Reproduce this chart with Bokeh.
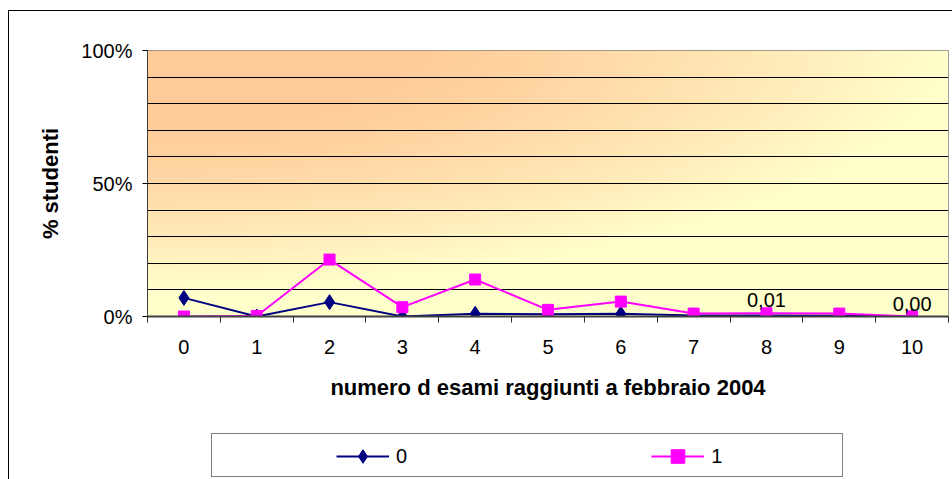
import numpy as np
from bokeh.plotting import figure
from bokeh.layouts import column
from bokeh.models import (ColumnDataSource, FixedTicker, NumeralTickFormatter, Legend,
                          LegendItem, LabelSet, Range1d)
from bokeh.core.properties import value
from bokeh.embed import file_html
from bokeh.resources import INLINE

# ---------------- data ----------------
categories = [0, 1, 2, 3, 4, 5, 6, 7, 8, 9, 10]
series_names = ["0", "1"]
serie_0 = [0.070, 0.000, 0.054, 0.000, 0.010, 0.008, 0.010, 0.004, 0.004, 0.003, 0.000]
serie_1 = [0.000, 0.002, 0.214, 0.035, 0.139, 0.025, 0.056, 0.011, 0.012, 0.011, 0.000]
label_categories = [8, 10]
label_texts = ["0,01", "0,00"]
y_ticks = [0.0, 0.5, 1.0]
x_title = "numero d esami raggiunti a febbraio 2004"
y_title = "% studenti"

FONT = "Liberation Sans"
NAVY = "#000080"
MAGENTA = "#FF00FF"

x_start, x_end = categories[0] - 0.5, categories[-1] + 0.5
y_start, y_end = y_ticks[0], y_ticks[-1]

p = figure(width=952, height=420, output_backend="svg", toolbar_location=None,
           x_range=Range1d(x_start, x_end), y_range=Range1d(y_start, y_end),
           min_border_left=147, min_border_right=4, min_border_top=50, min_border_bottom=104)
p.border_fill_color = None
p.outline_line_color = "#808080"
p.outline_line_width = 1

# ---------------- gradient background of the plot area ----------------
nx, ny = 400, 134
u = np.linspace(0.0, 1.0, nx)[None, :]
v = np.linspace(1.0, 0.0, ny)[:, None]  # row 0 = bottom
d = np.sqrt(u ** 2 + (v / 0.9) ** 2)
t = np.clip((d - 0.3) / 0.7, 0.0, 1.0) ** 1.3
c0 = np.array([255, 204, 153], dtype=float)
c1 = np.array([255, 255, 204], dtype=float)
rgb = c0[None, None, :] + (c1 - c0)[None, None, :] * t[:, :, None]
img = np.empty((ny, nx), dtype=np.uint32)
view = img.view(dtype=np.uint8).reshape((ny, nx, 4))
view[:, :, 0] = rgb[:, :, 0].astype(np.uint8)
view[:, :, 1] = rgb[:, :, 1].astype(np.uint8)
view[:, :, 2] = rgb[:, :, 2].astype(np.uint8)
view[:, :, 3] = 255
p.image_rgba(image=[img], x=x_start, y=y_start, dw=x_end - x_start, dh=y_end - y_start,
             level="image")

# ---------------- grid ----------------
p.xgrid.visible = False
p.ygrid.ticker = FixedTicker(ticks=[round(0.1 * k, 1) for k in range(1, 10)])
p.ygrid.grid_line_color = "#000000"
p.ygrid.grid_line_width = 1

# ---------------- series ----------------
src = ColumnDataSource(dict(x=categories, s0=serie_0, s1=serie_1))
p.line("x", "s0", source=src, line_color=NAVY, line_width=2)
p.scatter("x", "s0", source=src, marker="diamond", size=15, fill_color=NAVY, line_color=NAVY)
p.line("x", "s1", source=src, line_color=MAGENTA, line_width=2)
p.scatter("x", "s1", source=src, marker="square", size=11, fill_color=MAGENTA,
          line_color=MAGENTA)

lab_src = ColumnDataSource(dict(
    x=label_categories,
    y=[serie_1[categories.index(c)] for c in label_categories],
    text=label_texts))
p.add_layout(LabelSet(x="x", y="y", text="text", source=lab_src, text_align="center",
                      text_baseline="alphabetic", y_offset=6, text_font_size="20px",
                      text_font=value(FONT), text_color="#000000"))

# ---------------- axes ----------------
centers = categories
bounds = [c - 0.5 for c in categories] + [categories[-1] + 0.5]
p.xaxis.ticker = FixedTicker(ticks=centers, minor_ticks=bounds)
p.xaxis.major_tick_out = 0
p.xaxis.major_tick_in = 0
p.xaxis.minor_tick_out = 6
p.xaxis.minor_tick_in = 0
p.xaxis.minor_tick_line_color = "#333333"
p.xaxis.axis_line_color = "#404040"
p.xaxis.axis_line_width = 2
p.xaxis.major_label_text_font = FONT
p.xaxis.major_label_text_font_size = "20px"
p.xaxis.major_label_text_color = "#000000"
p.xaxis.major_label_standoff = 17
p.xaxis.axis_label = x_title
p.xaxis.axis_label_text_font = FONT
p.xaxis.axis_label_text_font_size = "22px"
p.xaxis.axis_label_text_font_style = "bold"
p.xaxis.axis_label_text_color = "#000000"
p.xaxis.axis_label_standoff = 18

p.yaxis.ticker = FixedTicker(ticks=y_ticks)
p.yaxis.formatter = NumeralTickFormatter(format="0%")
p.yaxis.major_tick_out = 5
p.yaxis.major_tick_in = 0
p.yaxis.minor_tick_out = 0
p.yaxis.minor_tick_in = 0
p.yaxis.major_tick_line_color = "#000000"
p.yaxis.axis_line_color = "#404040"
p.yaxis.major_label_text_font = FONT
p.yaxis.major_label_text_font_size = "20px"
p.yaxis.major_label_text_color = "#000000"
p.yaxis.major_label_standoff = 10
p.yaxis.axis_label = y_title
p.yaxis.axis_label_text_font = FONT
p.yaxis.axis_label_text_font_size = "22px"
p.yaxis.axis_label_text_font_style = "bold"
p.yaxis.axis_label_text_color = "#000000"
p.yaxis.axis_label_standoff = 15

# ---------------- legend strip (separate figure below the chart) ----------------
# its frame is aligned with the chart's frame by the column layout
leg = figure(width=952, height=59, output_backend="svg", toolbar_location=None,
             x_range=Range1d(0, 1), y_range=Range1d(0, 1),
             x_axis_location=None, y_axis_location=None,
             min_border_left=0, min_border_right=0, min_border_top=0, min_border_bottom=0)
leg.border_fill_color = None
leg.background_fill_color = None
leg.outline_line_color = None
leg.xgrid.visible = False
leg.ygrid.visible = False

nan = float("nan")
key_src = ColumnDataSource(dict(x=[nan], y=[nan]))
box_r = leg.line("x", "y", source=key_src, line_alpha=0)
k0_line = leg.line("x", "y", source=key_src, line_color=NAVY, line_width=2)
k0_mark = leg.scatter("x", "y", source=key_src, marker="diamond", size=15,
                      fill_color=NAVY, line_color=NAVY)
k1_line = leg.line("x", "y", source=key_src, line_color=MAGENTA, line_width=2)
k1_mark = leg.scatter("x", "y", source=key_src, marker="square", size=11,
                      fill_color=MAGENTA, line_color=MAGENTA)

box_legend = Legend(items=[LegendItem(label=" ", renderers=[box_r])], location=(64, 2),
                    orientation="horizontal", padding=9, glyph_width=20, glyph_height=24,
                    label_height=24, label_width=592, label_standoff=0, margin=0,
                    border_line_color="#000000", border_line_width=1,
                    background_fill_color="#ffffff", background_fill_alpha=1.0)
leg.add_layout(box_legend)

key_legend = Legend(items=[LegendItem(label=series_names[0], renderers=[k0_line, k0_mark]),
                           LegendItem(label=series_names[1], renderers=[k1_line, k1_mark])],
                    location=(189, 6), orientation="horizontal", padding=0, spacing=244,
                    glyph_width=53, glyph_height=34, label_height=34, label_width=11,
                    label_standoff=7, margin=0, border_line_alpha=0, background_fill_alpha=0,
                    label_text_font=FONT, label_text_font_size="20px",
                    label_text_color="#000000")
leg.add_layout(key_legend)

layout = column(p, leg, spacing=0)
# outer chart border (left and top edges only, like the cropped reference)
layout.styles = {"box-shadow": "inset 8px 10px 0 0 #ffffff, inset 9px 11px 0 0 #000000"}

open("out.html", "w").write(file_html(layout, INLINE))
